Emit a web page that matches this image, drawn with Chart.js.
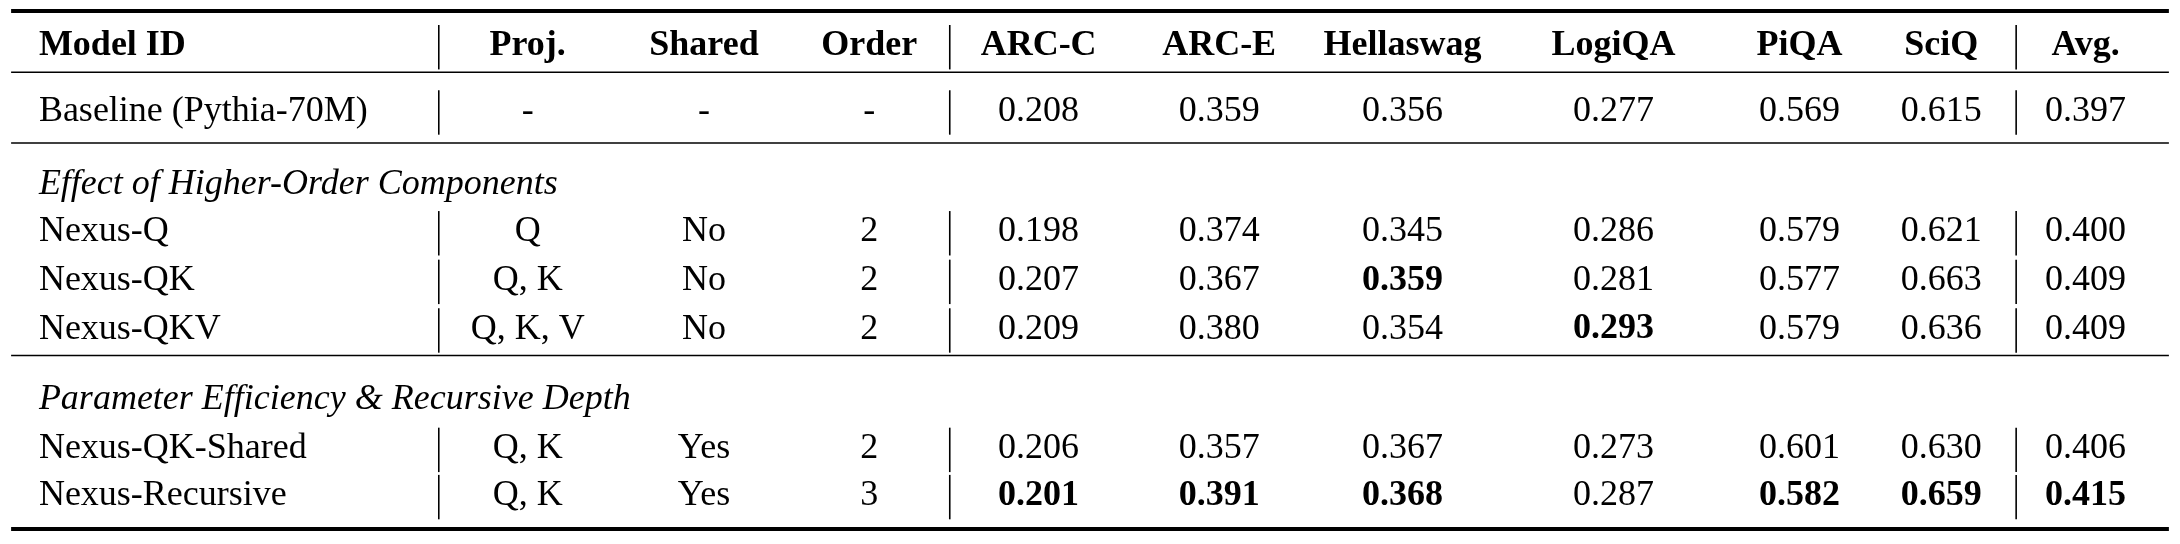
<!DOCTYPE html>
<html><head><meta charset="utf-8">
<script src="https://cdn.jsdelivr.net/npm/chart.js@4"></script>
<style>html,body{margin:0;padding:0;background:#fff}#w{width:2180px;height:544px}</style>
</head><body><div id="w"><canvas id="c"></canvas></div>
<script>
const columns = ["Model ID","Proj.","Shared","Order","ARC-C","ARC-E","Hellaswag","LogiQA","PiQA","SciQ","Avg."];
const models = ["Baseline (Pythia-70M)","Nexus-Q","Nexus-QK","Nexus-QKV","Nexus-QK-Shared","Nexus-Recursive"];
const proj = ["-","Q","Q, K","Q, K, V","Q, K","Q, K"];
const shared = ["-","No","No","No","Yes","Yes"];
const order = ["-","2","2","2","2","3"];
const arcC = [0.208,0.198,0.207,0.209,0.206,0.201];
const arcE = [0.359,0.374,0.367,0.380,0.357,0.391];
const hellaswag = [0.356,0.345,0.359,0.354,0.367,0.368];
const logiqa = [0.277,0.286,0.281,0.293,0.273,0.287];
const piqa = [0.569,0.579,0.577,0.579,0.601,0.582];
const sciq = [0.615,0.621,0.663,0.636,0.630,0.659];
const avg = [0.397,0.400,0.409,0.409,0.406,0.415];
const sections = ["Effect of Higher-Order Components","Parameter Efficiency & Recursive Depth"];
// bold cells: [modelIndex, columnIndex]
const boldCells = [[2,6],[3,7],[5,4],[5,5],[5,6],[5,8],[5,9],[5,10]];

// layout (design units, scaled by S to page pixels)
const S = 2180/1570;
const colX = [28,380,507,626,748,878,1010,1162,1296,1398,1502];
const headerY = 33, modelY = [80,167,202,237,323,357], sectionY = [133,288];
const vbarX = [316,684,1452];
const FONT = '"Liberation Serif","DejaVu Serif",serif';
const FS = Math.round(26*S)+'px ';

const tablePlugin = {
  id:'table',
  afterDraw(chart){
    const c = chart.ctx, xs = chart.scales.x, ys = chart.scales.y;
    const X = v=>xs.getPixelForValue(v*S), Y = v=>ys.getPixelForValue(v*S);
    c.save();
    c.fillStyle='#000'; c.strokeStyle='#000';
    const hline=(y,w)=>{c.lineWidth=w;c.beginPath();c.moveTo(X(8),Y(y));c.lineTo(X(1562),Y(y));c.stroke();};
    hline(8,4); hline(52,1.6); hline(103,1.6); hline(256,1.6); hline(381,4);
    const vbar=(y)=>{c.lineWidth=1.6;vbarX.forEach(x=>{c.beginPath();c.moveTo(X(x),Y(y-15));c.lineTo(X(x),Y(y+17));c.stroke();});};
    c.textBaseline='middle';
    c.font='bold '+FS+FONT;
    columns.forEach((t,i)=>{c.textAlign=i===0?'left':'center';c.fillText(t,X(colX[i]),Y(headerY));});
    vbar(headerY);
    c.font='italic '+FS+FONT; c.textAlign='left';
    sections.forEach((t,i)=>c.fillText(t,X(colX[0]),Y(sectionY[i])));
    const nums=[arcC,arcE,hellaswag,logiqa,piqa,sciq,avg];
    models.forEach((m,r)=>{
      const cells=[m,proj[r],shared[r],order[r],...nums.map(a=>a[r].toFixed(3))];
      cells.forEach((t,i)=>{
        const b=boldCells.some(([rr,cc])=>rr===r&&cc===i);
        c.font=(b?'bold ':'')+FS+FONT;
        c.textAlign=i===0?'left':'center';
        c.fillText(t,X(colX[i]),Y(modelY[r]));
      });
      vbar(modelY[r]);
    });
    c.restore();
  }
};

new Chart(document.getElementById('c'),{
  type:'scatter',
  data:{datasets:[{data:[],pointRadius:0}]},
  options:{responsive:true,maintainAspectRatio:false,animation:false,
    layout:{padding:0},
    plugins:{legend:{display:false},tooltip:{enabled:false}},
    scales:{
      x:{type:'linear',min:0,max:2180,display:false},
      y:{type:'linear',min:0,max:544,reverse:true,display:false}
    }},
  plugins:[tablePlugin]
});
</script></body></html>
